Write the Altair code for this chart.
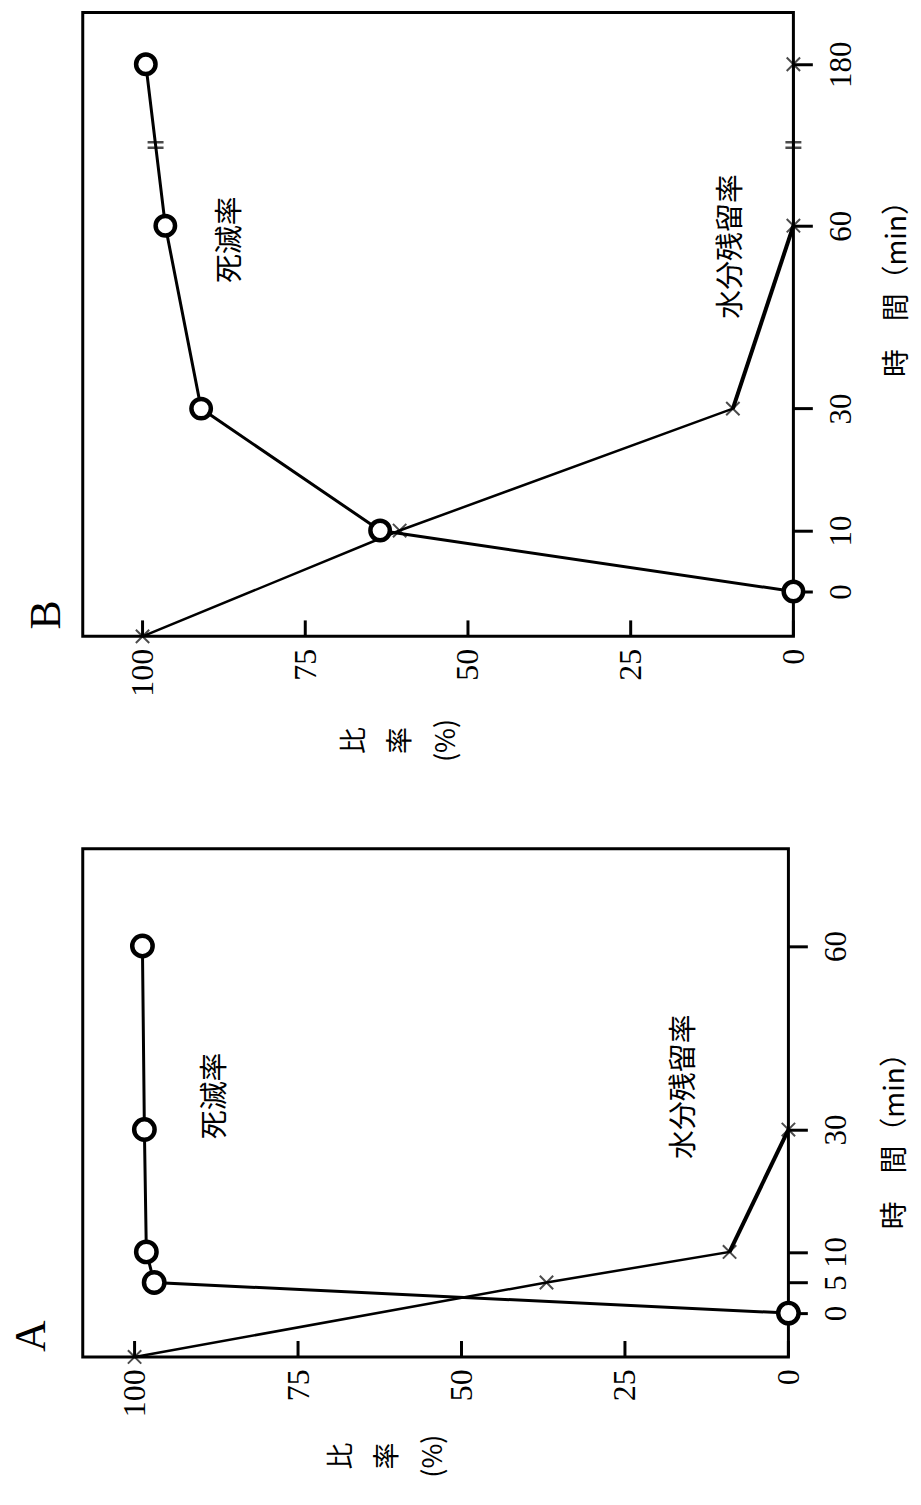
import altair as alt
import pandas as pd

# ---------------- data ----------------
ratio_ticks = [0, 25, 50, 75, 100]

# Panel B
B_time_ticks = [0, 10, 30, 60, 180]
B_kill_t = [0, 10, 30, 60, 180]
B_kill = [0, 63.5, 91, 96.5, 99.5]
B_moist_t = [-7.36, 10, 30, 60, 180]
B_moist = [100, 60.5, 9.3, 0, 0]
B_break_t = [120, 120]
B_break_r = [98, 0]
B_lab_txt = ["死滅率", "水分残留率"]
B_lab_r = [86.5, 9.6]
B_lab_t = [57.7, 56.6]

# Panel A
A_time_ticks = [0, 5, 10, 30, 60]
A_kill_t = [0, 5, 10, 30, 60]
A_kill = [0, 97.0, 98.2, 98.5, 98.8]
A_moist_t = [-7.17, 5, 10, 30]
A_moist = [100, 37, 9, 0]
A_lab_txt = ["死滅率", "水分残留率"]
A_lab_r = [87.7, 15.9]
A_lab_t = [35.5, 37]

CJK = "Noto Sans CJK JP"
SERIF = "Liberation Serif"


def make_panel(letter, kill_t, kill, moist_t, moist, thick, time_ticks,
               x_max, y_scale, W, H, lab_txt, lab_r, lab_t,
               letter_x, letter_up, xt_x, xt_y, yt_x, yt_y,
               circle_size, breaks=None):
    kill_df = pd.DataFrame({"r": kill, "t": kill_t})
    moist_df = pd.DataFrame({"r": moist, "t": moist_t})
    thick_df = moist_df.iloc[thick[0]:thick[1] + 1]
    lab_df = pd.DataFrame({"r": lab_r, "t": lab_t, "txt": lab_txt})
    tick_df = pd.DataFrame({"r": ratio_ticks})
    letter_df = pd.DataFrame({"txt": [letter]})

    xs = alt.Scale(domain=[0, x_max], reverse=True, nice=False, zero=False)
    x_axis = alt.Axis(values=ratio_ticks, ticks=False, tickSize=0, domain=False,
                      grid=False, labelAngle=270, labelAlign="right",
                      labelBaseline="middle", labelFont=SERIF, labelFontSize=32,
                      labelPadding=12, labelColor="black", labelOverlap=False,
                      labelFlush=False, labelBound=False,
                      title=["比", "率", "(%)"], titleAngle=270, titleFont=CJK,
                      titleFontSize=27, titleFontWeight="normal",
                      titleColor="black", titleAlign="center",
                      titleBaseline="middle", titleLineHeight=46,
                      titleX=xt_x, titleY=xt_y)
    y_axis = alt.Axis(orient="right", values=time_ticks, tickSize=19,
                      tickWidth=3, tickColor="black", domain=False, grid=False,
                      labelAngle=270, labelAlign="center", labelBaseline="top",
                      labelFont=SERIF, labelFontSize=31, labelPadding=14,
                      labelColor="black", labelOverlap=False, labelFlush=False,
                      labelBound=False,
                      title="時　間（min）", titleAngle=270, titleFont=CJK,
                      titleFontSize=28, titleFontWeight="normal",
                      titleColor="black", titleAlign="center",
                      titleBaseline="middle", titleX=yt_x, titleY=yt_y)

    def X():
        return alt.X("r:Q", scale=xs, axis=x_axis)

    def Y():
        return alt.Y("t:Q", scale=y_scale, axis=y_axis)

    kill_line = alt.Chart(kill_df).mark_line(color="black", strokeWidth=3).encode(
        x=X(), y=Y(), order="t:Q")
    moist_line = alt.Chart(moist_df).mark_line(color="black", strokeWidth=2.5).encode(
        x=X(), y=Y(), order="t:Q")
    moist_thick = alt.Chart(thick_df).mark_line(color="black", strokeWidth=4).encode(
        x=X(), y=Y(), order="t:Q")
    moist_pts = alt.Chart(moist_df).mark_point(
        shape="M-1,-1L1,1M-1,1L1,-1", size=180, filled=False, color="black",
        strokeWidth=2).encode(x=X(), y=Y())
    kill_pts = alt.Chart(kill_df).mark_point(
        shape="circle", size=circle_size, filled=True, fill="white",
        stroke="black", strokeWidth=4.5, opacity=1).encode(x=X(), y=Y())
    ticks = alt.Chart(tick_df).mark_rule(color="black", strokeWidth=3).encode(
        x=X(), y=alt.value(H - 16), y2=alt.value(H))
    labels = alt.Chart(lab_df).mark_text(
        angle=270, font=CJK, fontSize=29, align="center", baseline="middle",
        color="black").encode(x=X(), y=Y(), text="txt:N")
    letter_mark = alt.Chart(letter_df).mark_text(
        angle=270, font=SERIF, fontSize=44, align="left", baseline="alphabetic",
        color="black").encode(x=alt.value(letter_x), y=alt.value(H - letter_up),
                              text="txt:N")

    layers = [moist_line, moist_thick, kill_line, ticks, moist_pts, kill_pts]
    if breaks is not None:
        bdf = pd.DataFrame({"r": breaks[1], "t": breaks[0]})
        brk = alt.Chart(bdf).mark_point(
            shape="M-1,-0.35L1,-0.35M-1,0.35L1,0.35", size=256, filled=False,
            color="black", strokeWidth=2.5).encode(x=X(), y=Y())
        layers.append(brk)
    layers += [labels, letter_mark]

    return alt.layer(*layers).properties(width=W, height=H)


WB, HB = 713, 626
WA, HA = 708, 510

yB = alt.Scale(domain=[-7.36, 60, 180, 218.5], range=[HB, 214, 52, 0],
               nice=False, zero=False)
yA = alt.Scale(domain=[-7.17, 75.9], nice=False, zero=False)

panel_B = make_panel("B", B_kill_t, B_kill, B_moist_t, B_moist, (2, 3),
                     B_time_ticks, WB / 6.53, yB, WB, HB,
                     B_lab_txt, B_lab_r, B_lab_t,
                     letter_x=-23, letter_up=7, xt_x=273, xt_y=104,
                     yt_x=104, yt_y=270, circle_size=380,
                     breaks=(B_break_t, B_break_r))
panel_A = make_panel("A", A_kill_t, A_kill, A_moist_t, A_moist, (2, 3),
                     A_time_ticks, WA / 6.56, yA, WA, HA,
                     A_lab_txt, A_lab_r, A_lab_t,
                     letter_x=-38, letter_up=5, xt_x=260, xt_y=99,
                     yt_x=107, yt_y=286, circle_size=420)

chart = alt.vconcat(panel_B, panel_A, spacing=83).properties(
    padding=0, background="white"
).configure_view(stroke="black", strokeWidth=3)

chart.save("out.html", embed_options={"renderer": "svg", "actions": False})
